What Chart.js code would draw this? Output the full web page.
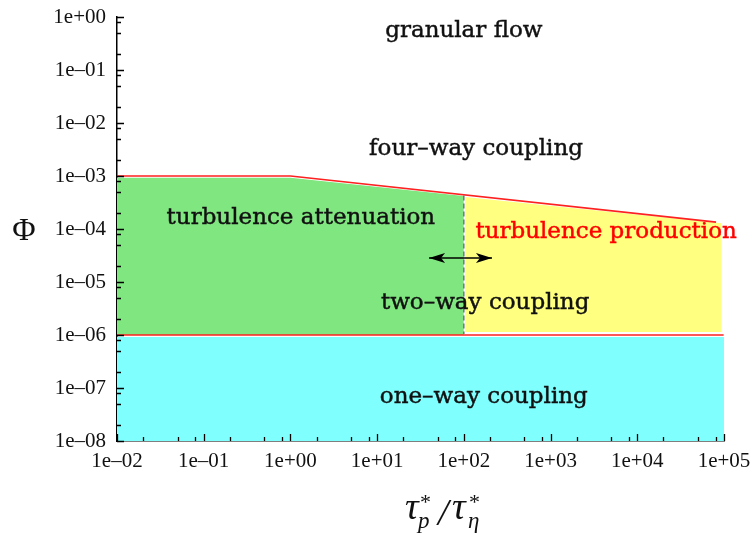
<!DOCTYPE html>
<html>
<head>
<meta charset="utf-8">
<script src="https://cdn.jsdelivr.net/npm/chart.js@4/dist/chart.umd.min.js"></script>
<style>
  html, body { margin: 0; background: #fff; }
</style>
</head>
<body>
<canvas id="regimeMap" width="752" height="538"></canvas>
<script>
// Decade ticks for both log axes
const xTickValues = [1e-2, 1e-1, 1e0, 1e1, 1e2, 1e3, 1e4, 1e5];
const xTickLabels = ["1e–02", "1e–01", "1e+00", "1e+01", "1e+02", "1e+03", "1e+04", "1e+05"];
const yTickValues = [1e-8, 1e-7, 1e-6, 1e-5, 1e-4, 1e-3, 1e-2, 1e-1, 1e0];
const yTickLabels = ["1e–08", "1e–07", "1e–06", "1e–05", "1e–04", "1e–03", "1e–02", "1e–01", "1e+00"];

// Onset of four-way coupling
const fourWayX = [1e-2, 1, 8.1e4];
const fourWayY = [1e-3, 1e-3, 1.35e-4];
// Boundary between one-way and two-way coupling
const twoWayX = [1e-2, 9.9e4];
const twoWayY = [1e-6, 1e-6];
// One-way coupling band (filled to the bottom of the axis)
const oneWayX = [1e-2, 1e5];
const oneWayY = [9.2e-7, 9.2e-7];
// Turbulence attenuation band, top edge
const attenuationX = [1e-2, 1, 1e2];
const attenuationY = [9.3e-4, 9.3e-4, 4.2e-4];
const attenuationFloor = 1e-6;
// Turbulence production band, top edge
const productionX = [103, 9.4e4];
const productionY = [4.0e-4, 1.28e-4];
const productionFloor = 1.14e-6;
// Divide between attenuation and production
const divideX = [1e2, 1e2];
const divideY = [4.3e-4, 1.05e-6];
// Transition arrow across the divide
const arrowX = [39.7, 211];
const arrowY = [2.84e-5, 2.84e-5];

// Regime names and where they sit (data coordinates)
const regionNames = ["granular flow", "four–way coupling", "turbulence attenuation",
  "turbulence production", "two–way coupling", "one–way coupling"];
const regionX = [1e2, 138, 1.32, 4.37e3, 176, 170];
const regionY = [0.55, 3.2e-3, 1.6e-4, 8.8e-5, 4e-6, 6.8e-8];
const regionColors = ["#111", "#111", "#111", "#ff0000", "#111", "#111"];

const pts = (xs, ys) => xs.map((x, i) => ({ x: x, y: ys[i] }));

const lineStyle = { pointRadius: 0, tension: 0, fill: false };

const datasets = [
  { ...lineStyle, label: "arrow", data: pts(arrowX, arrowY), borderColor: "#000", borderWidth: 1.5 },
  { ...lineStyle, label: "divide", data: pts(divideX, divideY), borderColor: "#666", borderWidth: 1.3, borderDash: [5, 3] },
  { ...lineStyle, label: "four-way", data: pts(fourWayX, fourWayY), borderColor: "#ff2020", borderWidth: 1.6 },
  { ...lineStyle, label: "two-way", data: pts(twoWayX, twoWayY), borderColor: "#ff2020", borderWidth: 1.6 },
  { ...lineStyle, label: "production", data: pts(productionX, productionY), borderWidth: 0,
    fill: { value: productionFloor }, backgroundColor: "#ffff80" },
  { ...lineStyle, label: "attenuation", data: pts(attenuationX, attenuationY), borderWidth: 0,
    fill: { value: attenuationFloor }, backgroundColor: "#80e680" },
  { ...lineStyle, label: "one-way", data: pts(oneWayX, oneWayY), borderWidth: 0,
    fill: "start", backgroundColor: "#80ffff" }
];

// Inward tick marks, arrowheads, regime names and axis titles
const overlay = {
  id: "overlay",
  afterDraw: function (chart) {
    const ctx = chart.ctx;
    const xs = chart.scales.x;
    const ys = chart.scales.y;
    const area = chart.chartArea;

    ctx.save();
    ctx.strokeStyle = "#000";
    ctx.lineWidth = 1.3;
    ctx.beginPath();
    xTickValues.forEach((v, i) => {
      const px = Math.round(xs.getPixelForValue(v)) + 0.5;
      ctx.moveTo(px, area.bottom);
      ctx.lineTo(px, area.bottom - 7);
      if (i < xTickValues.length - 1) {
        [2, 5, 8].forEach(m => {
          const mx = Math.round(xs.getPixelForValue(v * m)) + 0.5;
          ctx.moveTo(mx, area.bottom);
          ctx.lineTo(mx, area.bottom - 4);
        });
      }
    });
    yTickValues.forEach((v, i) => {
      const py = Math.round(ys.getPixelForValue(v)) + 0.5;
      ctx.moveTo(area.left, py);
      ctx.lineTo(area.left + 7, py);
      if (i < yTickValues.length - 1) {
        [2, 5, 8].forEach(m => {
          const my = Math.round(ys.getPixelForValue(v * m)) + 0.5;
          ctx.moveTo(area.left, my);
          ctx.lineTo(area.left + 4, my);
        });
      }
    });
    ctx.stroke();

    // arrowheads at both ends of the transition arrow
    const arrow = chart.getDatasetMeta(0).data;
    const head = (tip, dir) => {
      ctx.beginPath();
      ctx.moveTo(tip.x, tip.y);
      ctx.lineTo(tip.x + dir * 16, tip.y - 5);
      ctx.lineTo(tip.x + dir * 12, tip.y);
      ctx.lineTo(tip.x + dir * 16, tip.y + 5);
      ctx.closePath();
      ctx.fillStyle = "#000";
      ctx.fill();
    };
    head(arrow[0], 1);
    head(arrow[1], -1);

    // regime names
    ctx.font = "23px 'DejaVu Serif'";
    ctx.textAlign = "center";
    ctx.textBaseline = "middle";
    ctx.lineWidth = 0.45;
    regionNames.forEach((name, i) => {
      const px = xs.getPixelForValue(regionX[i]);
      const py = ys.getPixelForValue(regionY[i]);
      ctx.fillStyle = regionColors[i];
      ctx.strokeStyle = regionColors[i];
      ctx.fillText(name, px, py);
      ctx.strokeText(name, px, py);
    });

    // y title
    ctx.fillStyle = "#111";
    ctx.font = "32px 'Liberation Serif'";
    ctx.fillText("Φ", 24, (area.top + area.bottom) / 2 + 3);

    // x title: tau_p^* / tau_eta^*
    ctx.textAlign = "left";
    ctx.textBaseline = "alphabetic";
    const x0 = area.left + 288;
    const base = 519;
    const big = "italic 38px 'Liberation Serif'";
    const star = "22px 'Liberation Serif'";
    const sub = "italic 23px 'Liberation Serif'";
    ctx.font = big;
    ctx.fillText("τ", x0, base);
    ctx.fillText("/", x0 + 33, base + 6);
    ctx.fillText("τ", x0 + 47, base);
    ctx.font = star;
    ctx.fillText("*", x0 + 15, base - 10);
    ctx.fillText("*", x0 + 64, base - 10);
    ctx.font = sub;
    ctx.fillText("p", x0 + 13, base + 9);
    ctx.fillText("η", x0 + 63, base + 9);
    ctx.restore();
  }
};

const tickFont = { family: "'Liberation Serif'", size: 21 };

new Chart(document.getElementById("regimeMap"), {
  type: "line",
  data: { datasets: datasets },
  options: {
    responsive: false,
    animation: false,
    events: [],
    layout: { padding: { top: 17, right: 28, left: 0, bottom: 0 } },
    plugins: { legend: { display: false }, tooltip: { enabled: false } },
    scales: {
      x: {
        type: "logarithmic",
        min: 1e-2,
        max: 1e5,
        z: 1,
        grid: { display: false, drawTicks: false },
        border: { display: true, color: "#000", width: 1.5 },
        afterBuildTicks: s => { s.ticks = xTickValues.map(v => ({ value: v })); },
        afterFit: s => { s.height = 97; s.paddingLeft = 0; s.paddingRight = 0; },
        ticks: {
          color: "#111",
          font: tickFont,
          padding: 8,
          maxRotation: 0,
          autoSkip: false,
          callback: (v, i) => xTickLabels[i]
        }
      },
      y: {
        type: "logarithmic",
        min: 1e-8,
        max: 1e0,
        z: 1,
        grid: { display: false, drawTicks: false },
        border: { display: true, color: "#000", width: 1.5 },
        afterBuildTicks: s => { s.ticks = yTickValues.map(v => ({ value: v })); },
        afterFit: s => { s.width = 117; s.paddingTop = 0; s.paddingBottom = 0; },
        ticks: {
          color: "#111",
          font: tickFont,
          padding: 11,
          autoSkip: false,
          callback: (v, i) => yTickLabels[i]
        }
      }
    }
  },
  plugins: [overlay]
});
</script>
</body>
</html>
